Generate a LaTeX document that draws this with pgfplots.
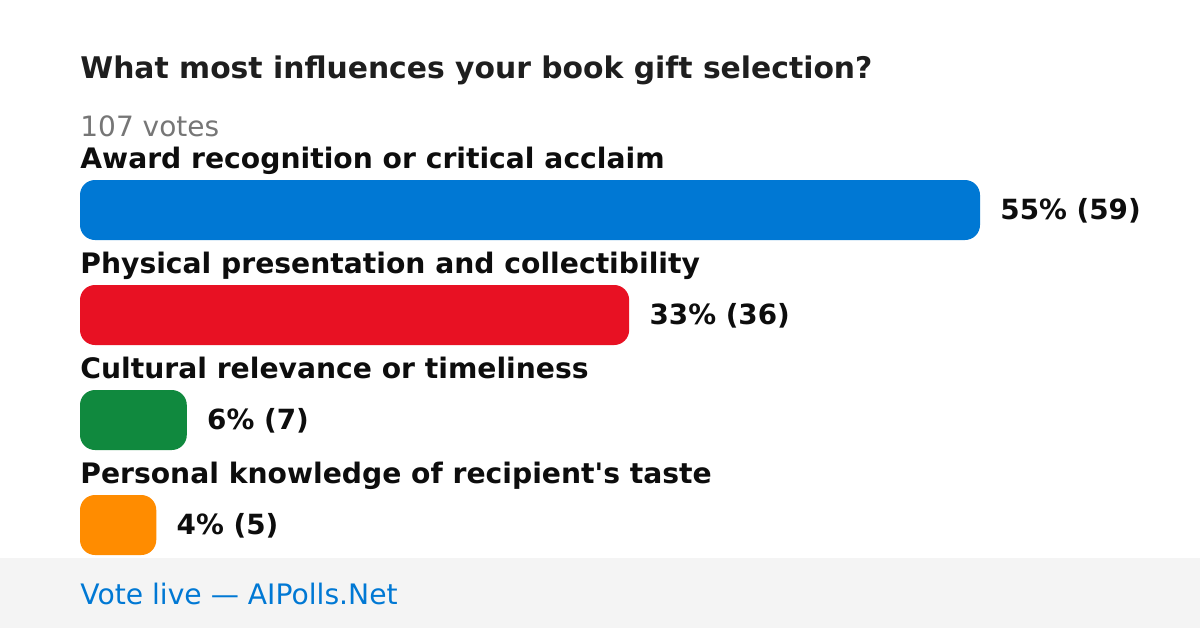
\documentclass[border=0pt]{standalone}
\usepackage{pgfplots}
\pgfplotsset{compat=1.18}
\usepackage{fontspec}
\setmainfont{DejaVu Sans}
\definecolor{cBlue}{HTML}{0078D4}
\definecolor{cRed}{HTML}{E81123}
\definecolor{cGreen}{HTML}{10893E}
\definecolor{cOrange}{HTML}{FF8C00}
\definecolor{cFoot}{HTML}{F4F4F4}
\definecolor{cTitle}{HTML}{1E1E1E}
\definecolor{cText}{HTML}{0D0D0D}
\definecolor{cGray}{HTML}{767676}
\begin{document}
\begin{tikzpicture}
\fill[white] (0,0) rectangle (600pt,314pt);
\begin{axis}[
  at={(0,0)}, anchor=south west,
  scale only axis, width=600pt, height=314pt,
  xmin=-5.24444, xmax=73.42222,
  ymin=0, ymax=628, y dir=reverse,
  axis lines=none, ticks=none, clip=false,
]
\fill[cFoot] (axis cs:-5.24444,558) rectangle (axis cs:73.42222,628);
\addplot[xbar, bar shift=0pt, bar width=30pt, fill=cBlue, draw=none, rounded corners=7.5pt] coordinates {(59,210)};
\addplot[xbar, bar shift=0pt, bar width=30pt, fill=cRed, draw=none, rounded corners=7.5pt] coordinates {(36,315)};
\addplot[xbar, bar shift=0pt, bar width=30pt, fill=cGreen, draw=none, rounded corners=7.5pt] coordinates {(7,420)};
\addplot[xbar, bar shift=0pt, bar width=30pt, fill=cOrange, draw=none, rounded corners=7.5pt] coordinates {(5,525)};
% texts
\node[anchor=base west, inner sep=0pt, text=cTitle, font=\fontsize{14.9}{17}\selectfont\bfseries] at (axis cs:0,78.8) {What most influences your book gift selection?};
\node[anchor=base west, inner sep=0pt, text=cGray, font=\fontsize{14}{16}\selectfont] at (axis cs:0,136.8) {107 votes};
\node[anchor=base west, inner sep=0pt, text=cText, font=\fontsize{14.1}{16}\selectfont\bfseries] at (axis cs:0,168.3) {Award recognition or critical acclaim};
\node[anchor=base west, inner sep=0pt, text=cText, font=\fontsize{14.1}{16}\selectfont\bfseries] at (axis cs:0,273.3) {Physical presentation and collectibility};
\node[anchor=base west, inner sep=0pt, text=cText, font=\fontsize{14.1}{16}\selectfont\bfseries] at (axis cs:0,378.3) {Cultural relevance or timeliness};
\node[anchor=base west, inner sep=0pt, text=cText, font=\fontsize{14.1}{16}\selectfont\bfseries] at (axis cs:0,483.3) {Personal knowledge of recipient\textquotesingle s taste};
\node[anchor=base west, inner sep=0pt, xshift=10pt, text=cText, font=\fontsize{13.9}{16}\selectfont\bfseries] at (axis cs:59,219.3) {55\% (59)};
\node[anchor=base west, inner sep=0pt, xshift=10pt, text=cText, font=\fontsize{13.9}{16}\selectfont\bfseries] at (axis cs:36,324.3) {33\% (36)};
\node[anchor=base west, inner sep=0pt, xshift=10pt, text=cText, font=\fontsize{13.9}{16}\selectfont\bfseries] at (axis cs:7,429.3) {6\% (7)};
\node[anchor=base west, inner sep=0pt, xshift=10pt, text=cText, font=\fontsize{13.9}{16}\selectfont\bfseries] at (axis cs:5,534.3) {4\% (5)};
\node[anchor=base west, inner sep=0pt, text=cBlue, font=\fontsize{14.1}{16}\selectfont] at (axis cs:0,604.8) {Vote live — AIPolls.Net};
\end{axis}
\pgfresetboundingbox
\path (0,0) rectangle (600pt,314pt);
\end{tikzpicture}
\end{document}
